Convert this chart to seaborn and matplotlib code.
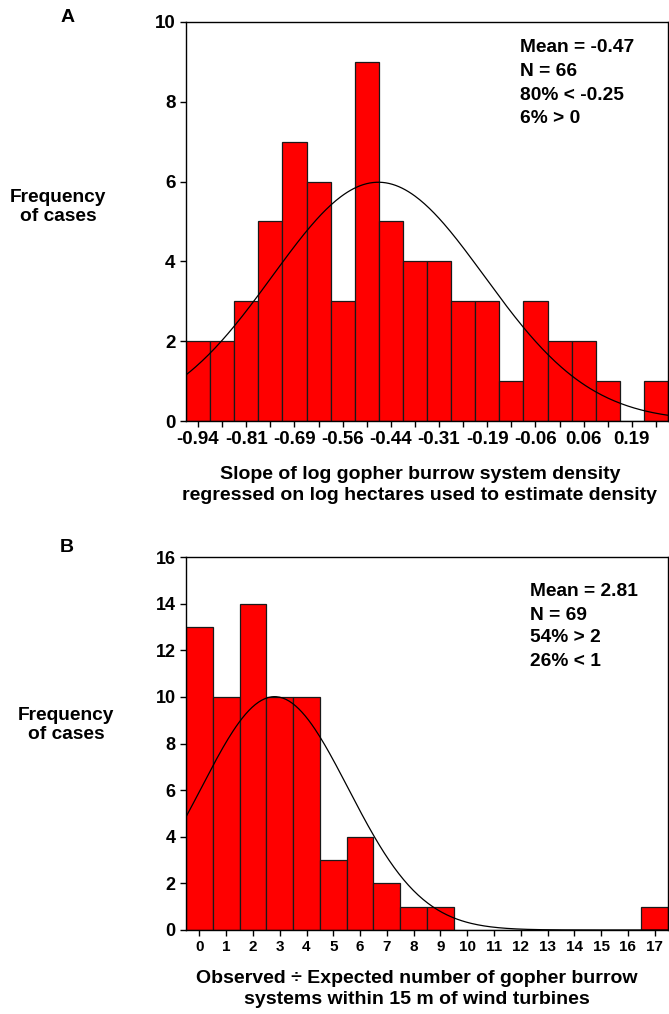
import numpy as np
import pandas as pd
import matplotlib
matplotlib.use("Agg")
import matplotlib.pyplot as plt
import seaborn as sns

# Panel A: slope of log density vs log hectares
slope_centers = [-0.9375, -0.875, -0.8125, -0.75, -0.6875, -0.625, -0.5625, -0.5,
                 -0.4375, -0.375, -0.3125, -0.25, -0.1875, -0.125, -0.0625, 0.0,
                 0.0625, 0.125, 0.1875, 0.25]
slope_counts = [2, 2, 3, 5, 7, 6, 3, 9, 5, 4, 4, 3, 3, 1, 3, 2, 2, 1, 0, 1]
slope_tick_labels = ["-0.94", "-0.81", "-0.69", "-0.56", "-0.44",
                     "-0.31", "-0.19", "-0.06", "0.06", "0.19"]
slope_mean = -0.47
slope_sd = 0.275
stats_a = ["Mean = -0.47", "N = 66", "80% < -0.25", "6% > 0"]

# Panel B: observed / expected burrow systems near turbines
ratio_centers = list(range(18))
ratio_counts = [13, 10, 14, 10, 10, 3, 4, 2, 1, 1, 0, 0, 0, 0, 0, 0, 0, 1]
ratio_mean = 2.81
ratio_sd = 2.75
stats_b = ["Mean = 2.81", "N = 69", "54% > 2", "26% < 1"]

sns.set_style("ticks")
plt.rcParams["font.family"] = ["Liberation Sans", "DejaVu Sans"]
plt.rcParams["font.weight"] = "bold"
plt.rcParams["text.color"] = "black"
plt.rcParams["axes.labelcolor"] = "black"
plt.rcParams["xtick.color"] = "black"
plt.rcParams["ytick.color"] = "black"

W, H = 669, 1014
fig = plt.figure(figsize=(W / 100, H / 100), dpi=100)


def px_axes(left, top, right, bottom):
    return fig.add_axes([left / W, 1 - bottom / H, (right - left) / W, (bottom - top) / H])


def draw_hist(ax, centers, counts, width, mean, sd, ymax):
    df = pd.DataFrame({"x": np.asarray(centers, dtype=float), "n": np.asarray(counts, dtype=float)})
    lo = df["x"].min() - width / 2
    hi = df["x"].max() + width / 2
    sns.histplot(data=df, x="x", weights="n", binwidth=width, binrange=(lo, hi), ax=ax,
                 color="#ff0000", edgecolor="#1a1a1a", linewidth=0.9, alpha=1)
    # fitted normal curve scaled to counts
    xs = np.linspace(lo, hi, 300)
    n = sum(counts)
    ys = n * width / (sd * np.sqrt(2 * np.pi)) * np.exp(-0.5 * ((xs - mean) / sd) ** 2)
    ax.plot(xs, ys, color="black", lw=0.9)
    ax.set_xlim(lo, hi)
    ax.set_ylim(0, ymax)
    ax.set_xlabel("")
    ax.set_ylabel("")
    for s in ax.spines.values():
        s.set_visible(True)
        s.set_color("black")
        s.set_linewidth(1)
    ax.tick_params(direction="out", length=4, width=1, color="black", labelcolor="black")


# ---- Panel A
ax_a = px_axes(186, 22, 668, 421)
draw_hist(ax_a, slope_centers, slope_counts, 0.0625, slope_mean, slope_sd, 10)
ax_a.set_xticks(slope_centers)
labels_a = [slope_tick_labels[i // 2] if i % 2 == 0 else "" for i in range(len(slope_centers))]
ax_a.set_xticklabels(labels_a, fontsize=13.5, fontweight="bold")
ax_a.set_yticks(range(0, 11, 2))
ax_a.set_yticklabels([str(v) for v in range(0, 11, 2)], fontsize=13.5, fontweight="bold")
for i, line in enumerate(stats_a):
    fig.text(520 / W, 1 - (48 + 23.5 * i) / H, line, fontsize=13.8, fontweight="bold",
             ha="left", va="center")

fig.text(68 / W, 1 - 17 / H, "A", fontsize=14, fontweight="bold", ha="center", va="center")
fig.text(58 / W, 1 - 207 / H, "Frequency\nof cases", fontsize=13.8, fontweight="bold",
         ha="center", va="center", linespacing=1.2)
fig.text(420 / W, 1 - 485 / H,
         "Slope of log gopher burrow system density\nregressed on log hectares used to estimate density",
         fontsize=14, fontweight="bold", ha="center", va="center", linespacing=1.35)

# ---- Panel B
ax_b = px_axes(186, 557, 668, 930)
draw_hist(ax_b, ratio_centers, ratio_counts, 1.0, ratio_mean, ratio_sd, 16)
ax_b.set_xticks(ratio_centers)
ax_b.set_xticklabels([str(v) for v in ratio_centers], fontsize=11, fontweight="bold")
ax_b.set_yticks(range(0, 17, 2))
ax_b.set_yticklabels([str(v) for v in range(0, 17, 2)], fontsize=13, fontweight="bold")
for i, line in enumerate(stats_b):
    fig.text(530 / W, 1 - (592 + 23 * i) / H, line, fontsize=13.8, fontweight="bold",
             ha="left", va="center")

fig.text(67 / W, 1 - 547 / H, "B", fontsize=14, fontweight="bold", ha="center", va="center")
fig.text(66 / W, 1 - 725 / H, "Frequency\nof cases", fontsize=13.8, fontweight="bold",
         ha="center", va="center", linespacing=1.2)
fig.text(417 / W, 1 - 989 / H,
         "Observed \u00f7 Expected number of gopher burrow\nsystems within 15 m of wind turbines",
         fontsize=14, fontweight="bold", ha="center", va="center", linespacing=1.3)

fig.savefig("out.png", dpi=100, facecolor="white")
